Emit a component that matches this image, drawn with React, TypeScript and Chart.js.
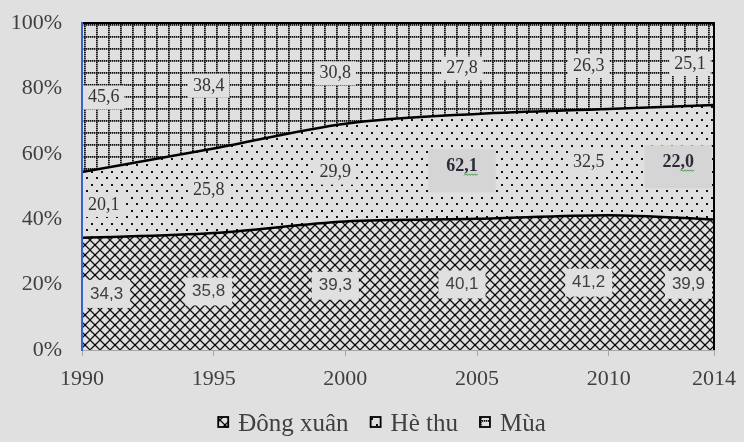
import React, { useEffect, useRef } from "react";
import { Chart, registerables } from "chart.js";

Chart.register(...registerables);

// ---- data ----
const years = [1990, 1995, 2000, 2005, 2010, 2014];
const dongXuan = [34.3, 35.8, 39.3, 40.1, 41.2, 39.9];
const heThu = [20.1, 25.8, 29.9, 32.1, 32.5, 35.0];
const mua = [45.6, 38.4, 30.8, 27.8, 26.3, 25.1];
const dongXuanLabels = ["34,3", "35,8", "39,3", "40,1", "41,2", "39,9"];
const heThuLabels = ["20,1", "25,8", "29,9", "62,1", "32,5", "22,0"];
const muaLabels = ["45,6", "38,4", "30,8", "27,8", "26,3", "25,1"];
const heThuFlagged = [false, false, false, true, false, true];
const seriesNames = ["Đông xuân", "Hè thu", "Mùa"];
const yTickValues = [0, 20, 40, 60, 80, 100];

const BG = "#e0e0e0";
const SERIF = '"Liberation Serif", "Times New Roman", serif';
const SANS = '"Liberation Sans", Arial, sans-serif';

function tile(w: number, h: number, draw: (g: CanvasRenderingContext2D) => void) {
  const c = document.createElement("canvas");
  c.width = w;
  c.height = h;
  const g = c.getContext("2d")!;
  g.fillStyle = BG;
  g.fillRect(0, 0, w, h);
  draw(g);
  return c;
}

function makePatterns(ctx: CanvasRenderingContext2D) {
  const cross = tile(10, 10, (g) => {
    g.strokeStyle = "#111";
    g.lineWidth = 1.3;
    g.beginPath();
    g.moveTo(-1, -1);
    g.lineTo(11, 11);
    g.moveTo(11, -1);
    g.lineTo(-1, 11);
    g.stroke();
    g.fillStyle = "#000";
    g.fillRect(4, 4, 2, 2);
  });
  const dots = tile(10, 13, (g) => {
    g.fillStyle = "#111";
    g.fillRect(1, 2, 2, 2);
    g.fillRect(6, 8, 2, 2);
  });
  const grid = tile(12, 12, (g) => {
    g.fillStyle = "#111";
    for (let i = 0; i < 12; i += 2) {
      g.fillRect(i, 0, 1.4, 1.8);
      g.fillRect(0, i, 1.8, 1.4);
    }
  });
  return {
    cross: ctx.createPattern(cross, "repeat")!,
    dots: ctx.createPattern(dots, "repeat")!,
    grid: ctx.createPattern(grid, "repeat")!,
  };
}

const bgPlugin = {
  id: "bgFill",
  beforeDraw(chart: any) {
    const { ctx, width, height } = chart;
    ctx.save();
    ctx.fillStyle = BG;
    ctx.fillRect(0, 0, width, height);
    ctx.restore();
  },
};

const framePlugin = {
  id: "frameRight",
  afterDatasetsDraw(chart: any) {
    const { ctx, chartArea } = chart;
    ctx.save();
    ctx.strokeStyle = "#000";
    ctx.lineWidth = 2;
    ctx.beginPath();
    ctx.moveTo(chartArea.left, chartArea.top);
    ctx.lineTo(chartArea.right, chartArea.top);
    ctx.moveTo(chartArea.right, chartArea.top - 1);
    ctx.lineTo(chartArea.right, chartArea.bottom);
    ctx.stroke();
    ctx.restore();
  },
};

function squiggle(ctx: CanvasRenderingContext2D, x0: number, x1: number, y: number) {
  ctx.save();
  ctx.strokeStyle = "#3c9a3c";
  ctx.lineWidth = 1;
  ctx.beginPath();
  let up = true;
  ctx.moveTo(x0, y);
  for (let x = x0 + 1.5; x <= x1; x += 1.5) {
    ctx.lineTo(x, up ? y - 1.5 : y);
    up = !up;
  }
  ctx.stroke();
  ctx.restore();
}

const labelPlugin = {
  id: "areaLabels",
  afterDatasetsDraw(chart: any) {
    const { ctx, chartArea } = chart;
    const xs = chart.scales.x;
    const ys = chart.scales.y;
    const series = [
      { vals: dongXuan, labels: dongXuanLabels, font: `17px ${SANS}`, color: "#404040", padX: 7, boxH: 28 },
      { vals: heThu, labels: heThuLabels, font: `18px ${SERIF}`, color: "#333", padX: 5, boxH: 24 },
      { vals: mua, labels: muaLabels, font: `18px ${SERIF}`, color: "#333", padX: 5, boxH: 24 },
    ];
    ctx.save();
    ctx.textAlign = "center";
    ctx.textBaseline = "middle";
    years.forEach((yr, i) => {
      let base = 0;
      series.forEach((s, si) => {
        const v = s.vals[i];
        const mid = base + v / 2;
        base += v;
        const flagged = si === 1 && heThuFlagged[i];
        ctx.font = flagged ? `bold 18px ${SERIF}` : s.font;
        const text = s.labels[i];
        const tw = ctx.measureText(text).width;
        const padX = flagged ? 18 : s.padX;
        const boxW = tw + padX * 2;
        const boxH = flagged ? 43 : s.boxH;
        let x = xs.getPixelForValue(yr) - (yr - years[0]) * 1.0;
        const y = ys.getPixelForValue(mid);
        x = Math.max(x, chartArea.left + 1 + boxW / 2);
        x = Math.min(x, chartArea.right - 2 - boxW / 2);
        ctx.fillStyle = flagged ? "#d5d5d5" : BG;
        const boxY = flagged ? y + 4.5 : y;
        ctx.fillRect(x - boxW / 2, boxY - boxH / 2, boxW, boxH);
        ctx.fillStyle = flagged ? "#2b2b3a" : s.color;
        ctx.fillText(text, x, y);
        if (flagged) {
          const comma = text.indexOf(",");
          const pre = ctx.measureText(text.slice(0, comma)).width;
          squiggle(ctx, x - tw / 2 + pre, x + tw / 2, y + 9);
        }
      });
    });
    ctx.restore();
  },
};

const legendPlugin = {
  id: "patternLegend",
  afterDraw(chart: any) {
    const { ctx, width } = chart;
    const ds = chart.data.datasets;
    ctx.save();
    ctx.font = `25px ${SERIF}`;
    const box = 10;
    const gap = 10;
    const spacing = 22;
    const widths = ds.map((d: any) => box + gap + ctx.measureText(d.label).width);
    const total = widths.reduce((a: number, b: number) => a + b, 0) + spacing * (ds.length - 1);
    let x = width / 2 + 10 - total / 2;
    const yMid = 422;
    ds.forEach((d: any, i: number) => {
      ctx.fillStyle = d.backgroundColor;
      ctx.fillRect(x, yMid - box / 2, box, box);
      ctx.strokeStyle = "#000";
      ctx.lineWidth = 1.8;
      ctx.strokeRect(x, yMid - box / 2, box, box);
      ctx.fillStyle = "#404040";
      ctx.textBaseline = "alphabetic";
      ctx.textAlign = "left";
      ctx.fillText(d.label, x + box + gap, 431);
      x += widths[i] + spacing;
    });
    ctx.restore();
  },
};

export default function App() {
  const ref = useRef<HTMLCanvasElement | null>(null);

  useEffect(() => {
    document.body.style.margin = "0";
    const canvas = ref.current!;
    const ctx = canvas.getContext("2d")!;
    const p = makePatterns(ctx);
    const toPts = (arr: number[]) => arr.map((v, i) => ({ x: years[i], y: v }));

    const chart = new Chart(ctx, {
      type: "line",
      data: {
        datasets: [
          {
            label: seriesNames[0],
            data: toPts(dongXuan),
            backgroundColor: p.cross as any,
            borderColor: "#000",
            borderWidth: 2.5,
            fill: "origin",
            pointRadius: 0,
            cubicInterpolationMode: "monotone",
          },
          {
            label: seriesNames[1],
            data: toPts(heThu),
            backgroundColor: p.dots as any,
            borderColor: "#000",
            borderWidth: 2.5,
            fill: "-1",
            pointRadius: 0,
            cubicInterpolationMode: "monotone",
          },
          {
            label: seriesNames[2],
            data: toPts(mua),
            backgroundColor: p.grid as any,
            borderColor: "#000",
            borderWidth: 2,
            fill: "-1",
            pointRadius: 0,
            cubicInterpolationMode: "monotone",
          },
        ],
      },
      options: {
        animation: false,
        responsive: false,
        devicePixelRatio: 1,
        layout: { padding: { top: 23, right: 30, bottom: 43, left: 0 } },
        plugins: {
          legend: { display: false },
          tooltip: { enabled: false },
        },
        scales: {
          x: {
            type: "linear",
            min: years[0],
            max: years[years.length - 1],
            afterBuildTicks: (scale: any) => {
              scale.ticks = years.map((v) => ({ value: v }));
            },
            afterFit: (scale: any) => {
              scale.height = 49;
            },
            ticks: {
              font: { family: SERIF, size: 22, lineHeight: 1.55 },
              color: "#404040",
              padding: 6,
              maxRotation: 0,
              autoSkip: false,
              callback: (v: any) => String(v),
            },
            grid: {
              drawOnChartArea: false,
              drawTicks: true,
              tickLength: 6,
              color: "#a6a6a6",
              z: 1,
            },
            border: { color: "#a6a6a6", width: 1, z: 1 },
          },
          y: {
            stacked: true,
            min: 0,
            max: 100,
            afterBuildTicks: (scale: any) => {
              scale.ticks = yTickValues.map((v) => ({ value: v }));
            },
            afterFit: (scale: any) => {
              scale.width = 82;
            },
            ticks: {
              font: { family: SERIF, size: 22 },
              color: "#404040",
              padding: 0,
              callback: (v: any) => `${v}%`,
            },
            grid: {
              drawOnChartArea: false,
              drawTicks: true,
              tickLength: 20,
              tickColor: "rgba(0,0,0,0)",
            },
            border: { color: "#3565c5", width: 2, z: 1 },
          },
        },
      },
      plugins: [bgPlugin, labelPlugin, framePlugin, legendPlugin],
    });
    return () => chart.destroy();
  }, []);

  return (
    <div style={{ width: 744, height: 442 }}>
      <canvas ref={ref} width={744} height={442} />
    </div>
  );
}
